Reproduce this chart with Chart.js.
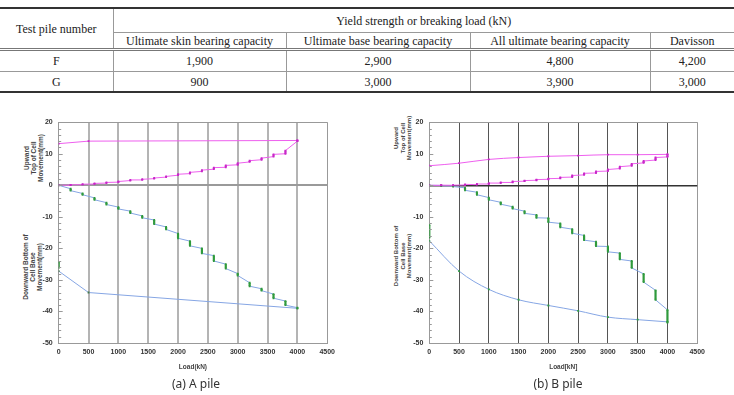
<!DOCTYPE html>
<html><head><meta charset="utf-8">
<script src="https://cdn.jsdelivr.net/npm/chart.js@4/dist/chart.umd.min.js"></script>
<style>
html,body{margin:0;padding:0;background:#fff;width:734px;height:395px;overflow:hidden;position:relative;}
#tbl{position:absolute;left:0;top:7px;width:734px;border-collapse:collapse;table-layout:fixed;font-family:'Liberation Serif','Times New Roman',serif;font-size:12px;color:#222;}
#tbl td{padding:0;text-align:center;vertical-align:middle;line-height:14px;}
#tbl tr.r1 td{height:23px;}
#tbl tr.r2 td{height:15px;}
#tbl tr.r3 td{height:20px;}
#tbl tr.r4 td{height:19px;}
#tbl{border-top:2px solid #333;border-bottom:2px solid #333;}
.vl{border-left:1px solid #999;}
.hb{border-bottom:1px solid #999;}
.hd{border-bottom:3px double #777;}
canvas{position:absolute;}
.yt{position:absolute;transform:translate(-50%,-50%) rotate(-90deg);font-family:'Liberation Sans',Arial,sans-serif;font-weight:bold;color:#444;text-align:center;white-space:nowrap;}
.cap{position:absolute;font-family:'Noto Sans','Liberation Sans',sans-serif;font-size:12px;color:#333;transform:translateX(-50%);white-space:nowrap;}
</style></head>
<body>
<table id="tbl"><colgroup><col style="width:113px"><col style="width:173px"><col style="width:184px"><col style="width:180px"><col style="width:84px"></colgroup><tbody id="tb"></tbody></table>
<div class="yt" style="left:33px;top:158px;font-size:6.5px;line-height:7px">Upward<br>Top of Cell<br>Movement(mm)</div>
<div class="yt" style="left:32px;top:267px;font-size:6.5px;line-height:7px">Downward Bottom of<br>Cell Base<br>Movement(mm)</div>
<div class="yt" style="left:403px;top:138px;font-size:6px;line-height:6.5px">Upward<br>Top of Cell<br>Movement(mm)</div>
<div class="yt" style="left:403px;top:256px;font-size:6px;line-height:6.5px">Downward Bottom of<br>Cell Base<br>Movement(mm)</div>
<canvas id="c1" width="340" height="265" style="left:0;top:112px;width:340px;height:265px"></canvas>
<canvas id="c2" width="340" height="265" style="left:370px;top:112px;width:340px;height:265px"></canvas>
<div class="cap" style="left:196px;top:375px">(a) A pile</div>
<div class="cap" style="left:558px;top:375px">(b) B pile</div>
<script>
// ---- table data ----
const tableTitle = "Yield strength or breaking load (kN)";
const rowHeader = "Test pile number";
const columns = ["Ultimate skin bearing capacity","Ultimate base bearing capacity","All ultimate bearing capacity","Davisson"];
const piles = ["F","G"];
const pileF = ["1,900","2,900","4,800","4,200"];
const pileG = ["900","3,000","3,900","3,000"];

// ---- chart data ----
const loadSteps = [0,200,400,600,800,1000,1200,1400,1600,1800,2000,2200,2400,2600,2800,3000,3200,3400,3600,3800,4000];
const xTicks = [0,500,1000,1500,2000,2500,3000,3500,4000,4500];
const yTicks = [20,10,0,-10,-20,-30,-40,-50];

// A pile
const aTopStart = [0,0.05,0.2,0.4,0.7,1.0,1.5,1.7,2.1,2.6,3.2,3.7,4.4,5.1,5.7,6.5,7.4,8.1,9.1,10.0,14.0];
const aTopEnd   = [0,0.15,0.35,0.6,0.9,1.2,1.7,1.9,2.3,2.8,3.5,4.1,4.8,5.6,6.3,7.0,7.8,8.6,9.8,11.0,14.2];
const aTopUnloadLoad = [4000,500,0];
const aTopUnload = [14.2,14.0,13.2];
const aBotStart = [0,-1.1,-2.6,-4.0,-5.5,-6.9,-8.2,-9.7,-11.0,-13.2,-15.3,-17.7,-20.0,-22.3,-25.0,-28.0,-30.9,-32.8,-34.5,-36.7,-38.8];
const aBotEnd   = [0,-1.7,-3.0,-4.6,-6.1,-7.5,-8.8,-10.3,-12.3,-14.0,-16.8,-19.2,-21.6,-24.0,-26.4,-28.6,-32.0,-33.4,-35.8,-38.0,-39.0];
const aBotUnloadLoad = [4000,500,0];
const aBotUnload = [-39.0,-34.0,-27.2];
const aBotReboundLoad = [0,0];
const aBotRebound = [-26.2,-24.4];

// B pile
const bTopStart = [0,0,0,0.1,0.2,0.4,0.7,0.9,1.3,1.6,1.9,2.2,2.6,3.3,3.9,4.5,5.3,6.2,7.1,8.0,9.0];
const bTopEnd   = [0,0.05,0.05,0.3,0.4,0.7,0.9,1.2,1.5,1.8,2.1,2.5,3.1,3.8,4.4,5.0,5.9,6.8,7.7,8.8,9.8];
const bTopUnloadLoad = [4000,3500,3000,2500,2000,1500,1000,500,0];
const bTopUnload = [9.8,9.7,9.7,9.4,9.2,8.8,8.2,7.0,6.2];
const bBotStart = [0,-0.05,-0.2,-0.8,-2.2,-3.9,-5.4,-6.8,-8.2,-9.4,-10.4,-12.1,-13.9,-15.9,-17.9,-19.4,-21.5,-24.0,-28.1,-33.3,-39.5];
const bBotEnd   = [0,-0.15,-0.4,-1.6,-3.0,-4.6,-6.0,-7.4,-8.9,-10.3,-11.7,-13.3,-15.2,-17.4,-19.3,-21.1,-23.5,-26.2,-30.7,-36.3,-43.5];
const bBotUnloadLoad = [4000,3500,3000,2500,2000,1500,1000,500,0];
const bBotUnload = [-43.3,-42.6,-41.8,-39.8,-38.1,-36.3,-33.0,-27.2,-17.6];
const bBotReboundLoad = [0,0];
const bBotRebound = [-16.6,-12.6];

// ---- build table ----
(function(){
  const tb = document.getElementById('tb');
  let h = '<tr class="r1"><td rowspan="2" class="hd">'+rowHeader+'</td><td colspan="4" class="vl hb">'+tableTitle+'</td></tr>';
  h += '<tr class="r2">' + columns.map(c=>'<td class="vl hd">'+c+'</td>').join('') + '</tr>';
  const rows = [pileF, pileG];
  piles.forEach((p,i)=>{
    h += '<tr class="'+(i===0?'r3':'r4')+'"><td'+(i===0?' class="hb"':'')+'>'+p+'</td>' + rows[i].map(v=>'<td class="vl'+(i===0?' hb':'')+'">'+v+'</td>').join('') + '</tr>';
  });
  tb.innerHTML = h;
})();

// ---- chart helpers ----
function steps(xs, s, e){
  const out=[];
  xs.forEach((x,i)=>{ out.push({x:x,y:s[i]}); if(e[i]!==s[i]) out.push({x:x,y:e[i]}); });
  return out;
}
function pairs(xs, ys){ return xs.map((x,i)=>({x:x,y:ys[i]})); }

const PINK='#ee5fee', PINKM='#c828c8', BLUE='#86a6e4', GREEN='#2f9a3c';

function stepDataset(data, lineC, markC){
  return {data:data, showLine:true, borderColor:lineC, borderWidth:1, pointRadius:1.3, pointStyle:'rect',
    pointBackgroundColor:markC, pointBorderColor:markC, pointBorderWidth:0,
    segment:{ borderColor:c=> c.p0.parsed.x===c.p1.parsed.x ? markC : lineC,
              borderWidth:c=> c.p0.parsed.x===c.p1.parsed.x ? 2.2 : 1 } };
}
function plainDataset(data, lineC, markC, smooth){
  const d = {data:data, showLine:true, borderColor:lineC, borderWidth:1, pointRadius:1.3, pointStyle:'rect',
    pointBackgroundColor:markC, pointBorderColor:markC, pointBorderWidth:0, tension:0};
  if(smooth) d.cubicInterpolationMode='monotone';
  return d;
}

const minorTicks = {
  id:'minorTicks',
  afterDatasetsDraw(chart, args, opts){
    const y=chart.scales.y, x=chart.scales.x, ctx=chart.ctx;
    ctx.save(); ctx.strokeStyle=opts.color; ctx.lineWidth=1;
    for(let v=-50; v<=20; v+=2){
      const py=Math.round(y.getPixelForValue(v))+0.5;
      ctx.beginPath(); ctx.moveTo(x.left, py); ctx.lineTo(x.left+(v%10===0?4:2.5), py); ctx.stroke();
    }
    ctx.restore();
  }
};

function makeChart(id, sets, style){
  return new Chart(document.getElementById(id), {
    type:'scatter',
    data:{datasets:sets},
    options:{
      responsive:false, animation:false, devicePixelRatio:1,
      layout:{padding:{top:9,right:6,left:0,bottom:0}},
      plugins:{legend:{display:false},tooltip:{enabled:false},minorTicks:{color:style.axis}},
      scales:{
        x:{type:'linear', min:0, max:4500,
           afterBuildTicks:s=>{s.ticks=xTicks.map(v=>({value:v}));},
           afterFit:s=>{s.height=style.xh;},
           grid:{drawTicks:false, color:c=> (c.tick.value===0?'rgba(0,0,0,0)': c.tick.value===4500? style.axis : style.grid),
                 lineWidth:c=> (c.tick.value===4500?1:style.gw)},
           border:{color:style.axis, width:1},
           ticks:{padding:5, color:'#333', font:{family:'Liberation Sans', size:7, weight:'bold'}, callback:v=>String(v)},
           title:{display:true, text:style.xt, color:'#444', font:{family:'Liberation Sans', size:6.5, weight:'bold'}, padding:{top:0,bottom:6}}
        },
        y:{type:'linear', min:-50, max:20,
           afterBuildTicks:s=>{s.ticks=yTicks.map(v=>({value:v}));},
           afterFit:s=>{s.width=style.yw;},
           grid:{drawTicks:false, color:c=> (c.tick.value===0? style.zero : c.tick.value===20? style.axis : 'rgba(0,0,0,0)'),
                 lineWidth:c=> (c.tick.value===0? style.zw : 1)},
           border:{color:style.axis, width:1},
           ticks:{padding:6, color:'#333', font:{family:'Liberation Sans', size:7, weight:'bold'}, callback:v=>String(v)}
        }
      }
    },
    plugins:[minorTicks]
  });
}

makeChart('c1', [
  stepDataset(steps(loadSteps,aTopStart,aTopEnd), PINK, PINKM),
  plainDataset(pairs(aTopUnloadLoad,aTopUnload), PINK, PINKM, false),
  stepDataset(steps(loadSteps,aBotStart,aBotEnd), BLUE, GREEN),
  plainDataset(pairs(aBotUnloadLoad,aBotUnload), BLUE, '#4a7a4a', false),
  stepDataset(pairs(aBotReboundLoad,aBotRebound), GREEN, GREEN)
], {axis:'#999', grid:'#b4b4b4', gw:2, zero:'#9a9a9a', zw:2, yw:58.7, xh:34, xt:'Load(kN)'});

makeChart('c2', [
  stepDataset(steps(loadSteps,bTopStart,bTopEnd), PINK, PINKM),
  plainDataset(pairs(bTopUnloadLoad,bTopUnload), PINK, PINKM, true),
  stepDataset(steps(loadSteps,bBotStart,bBotEnd), BLUE, GREEN),
  plainDataset(pairs(bBotUnloadLoad,bBotUnload), BLUE, GREEN, true),
  stepDataset(pairs(bBotReboundLoad,bBotRebound), GREEN, GREEN)
], {axis:'#999', grid:'#555', gw:1, zero:'#333', zw:1.5, yw:59.3, xh:34, xt:'Load[kN]'});
</script>
</body></html>
